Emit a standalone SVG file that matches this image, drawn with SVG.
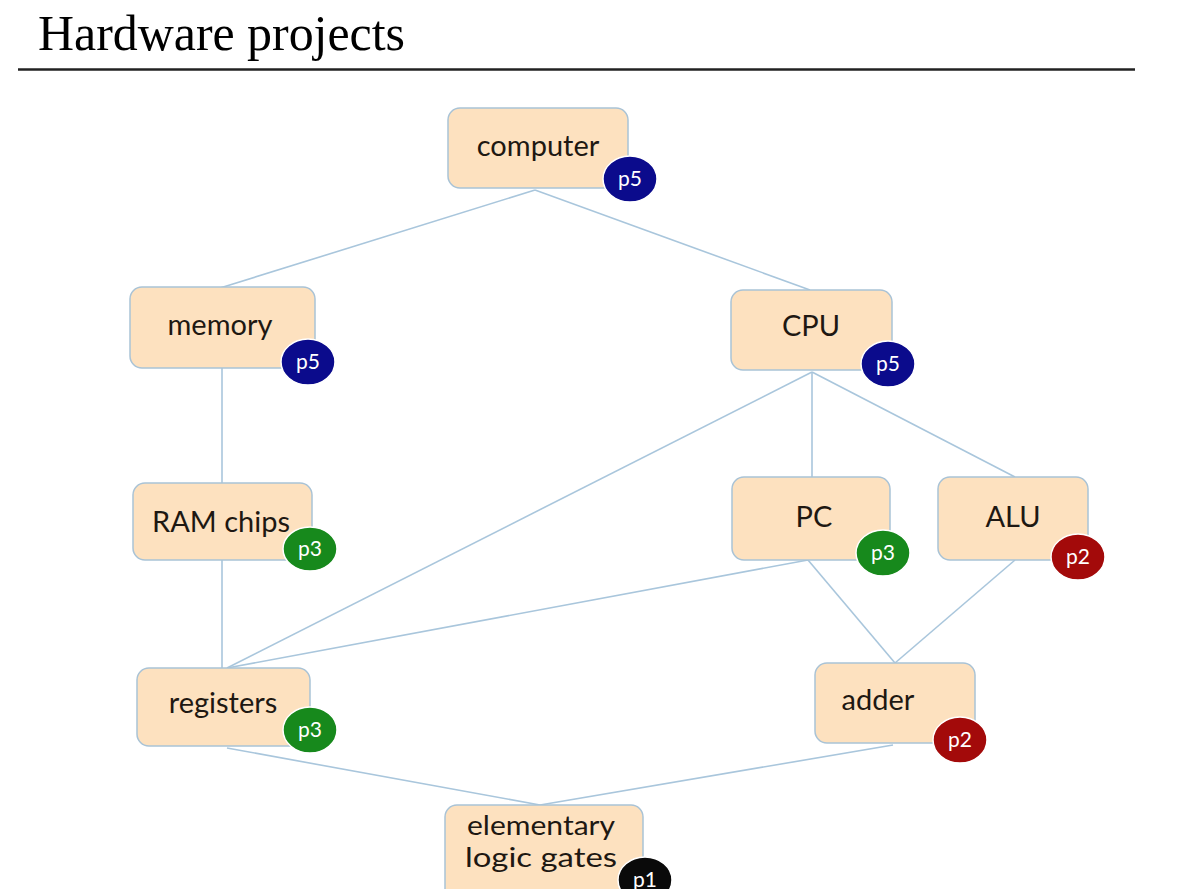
<svg xmlns="http://www.w3.org/2000/svg" width="1185" height="889" viewBox="0 0 1185 889">
<style>
.n{fill:#fde1bf;stroke:#a9c3d6;stroke-width:1.5}
.t{font-family:Lato,"Open Sans",sans-serif;font-size:29px;fill:#1e1812;text-anchor:middle}
.t2{font-family:Lato,"Open Sans",sans-serif;font-size:26px;fill:#1e1812;text-anchor:middle}
.b{stroke:#fff;stroke-width:1.5}
.bt{font-family:Lato,"Open Sans",sans-serif;font-size:21px;fill:#fff;text-anchor:middle}
.p5{fill:#0b0b8c}.p3{fill:#17891c}.p2{fill:#a30a0a}.p1{fill:#0a0a0a}
.c line{stroke:#a9c6dc;stroke-width:1.6}
</style>
<rect width="1185" height="889" fill="#fff"/>
<text x="38" y="50" font-family="Liberation Serif,serif" font-size="50" fill="#000" textLength="367" lengthAdjust="spacingAndGlyphs">Hardware projects</text>
<line x1="18" y1="69.5" x2="1135" y2="69.5" stroke="#222" stroke-width="2.5"/>
<g id="connectors" class="c">
<line x1="535" y1="190" x2="220" y2="288"/>
<line x1="535" y1="190" x2="810" y2="290"/>
<line x1="222" y1="368" x2="222" y2="483"/>
<line x1="222" y1="560" x2="222" y2="668"/>
<line x1="812" y1="372" x2="227" y2="668"/>
<line x1="812" y1="372" x2="812" y2="477"/>
<line x1="812" y1="372" x2="1015" y2="477"/>
<line x1="808" y1="560" x2="227" y2="668"/>
<line x1="808" y1="560" x2="895" y2="663"/>
<line x1="1015" y1="560" x2="895" y2="663"/>
<line x1="227" y1="748" x2="540" y2="805"/>
<line x1="893" y1="745" x2="540" y2="805"/>
</g>
<g id="computer"><rect class="n" x="448" y="108" width="180" height="80" rx="12"/><text class="t" x="538" y="156">computer</text><ellipse class="b p5" cx="630" cy="179" rx="27" ry="23"/><text class="bt" x="630" y="186">p5</text></g>
<g id="memory"><rect class="n" x="130" y="287" width="185" height="81" rx="12"/><text class="t" x="220" y="335">memory</text><ellipse class="b p5" cx="308" cy="362" rx="27" ry="23"/><text class="bt" x="308" y="369">p5</text></g>
<g id="cpu"><rect class="n" x="731" y="290" width="161" height="80" rx="12"/><text class="t" x="811" y="336">CPU</text><ellipse class="b p5" cx="888" cy="364" rx="27" ry="23"/><text class="bt" x="888" y="371">p5</text></g>
<g id="ram"><rect class="n" x="133" y="483" width="179" height="77" rx="12"/><text class="t" x="221" y="532">RAM chips</text><ellipse class="b p3" cx="310" cy="549" rx="27" ry="22"/><text class="bt" x="310" y="556">p3</text></g>
<g id="pc"><rect class="n" x="732" y="477" width="158" height="83" rx="12"/><text class="t" x="814" y="527">PC</text><ellipse class="b p3" cx="883" cy="553" rx="27" ry="23"/><text class="bt" x="883" y="560">p3</text></g>
<g id="alu"><rect class="n" x="938" y="477" width="150" height="83" rx="12"/><text class="t" x="1013" y="527">ALU</text><ellipse class="b p2" cx="1078" cy="557" rx="27" ry="23"/><text class="bt" x="1078" y="564">p2</text></g>
<g id="registers"><rect class="n" x="137" y="668" width="173" height="78" rx="12"/><text class="t" x="223" y="713">registers</text><ellipse class="b p3" cx="310" cy="730" rx="27" ry="23"/><text class="bt" x="310" y="737">p3</text></g>
<g id="adder"><rect class="n" x="815" y="663" width="160" height="80" rx="12"/><text class="t" x="878" y="710">adder</text><ellipse class="b p2" cx="960" cy="740" rx="27" ry="23"/><text class="bt" x="960" y="747">p2</text></g>
<g id="gates"><rect class="n" x="445" y="805" width="198" height="100" rx="12"/><text class="t2" x="541" y="835" textLength="148" lengthAdjust="spacingAndGlyphs">elementary</text><text class="t2" x="541" y="867" textLength="152" lengthAdjust="spacingAndGlyphs">logic gates</text><ellipse class="b p1" cx="645" cy="880" rx="27" ry="23"/><text class="bt" x="645" y="887">p1</text></g>
</svg>
